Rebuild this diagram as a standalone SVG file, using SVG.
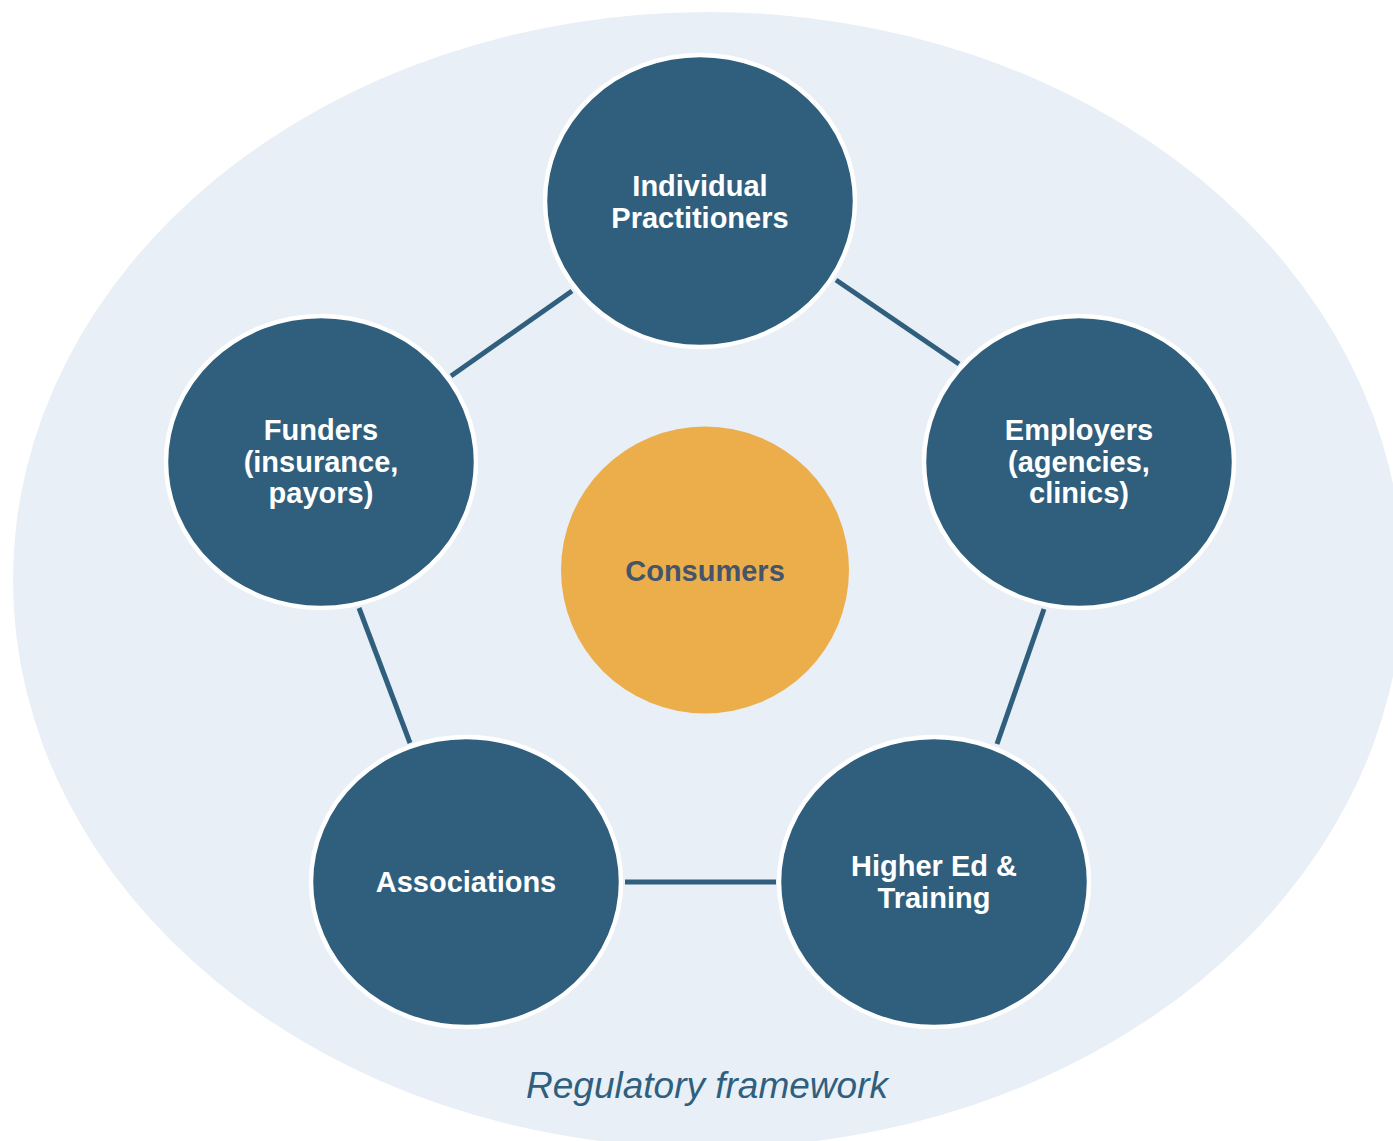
<svg xmlns="http://www.w3.org/2000/svg" width="1393" height="1141" viewBox="0 0 1393 1141">
  <style>
    .node { fill: #305F7E; stroke: #FFFFFF; stroke-width: 4.5; }
    .label { font-family: "Liberation Sans", Arial, sans-serif; font-size: 29px; font-weight: bold; fill: #FFFFFF; text-anchor: middle; }
    .conn { stroke: #305F7E; stroke-width: 5; fill: none; }
  </style>
  <rect width="1393" height="1141" fill="#FFFFFF"/>
  <g id="framework">
    <ellipse cx="708" cy="580" rx="695" ry="568" fill="#E8EFF6"/>
    <text x="707" y="1098" font-family="Liberation Sans, Arial, sans-serif" font-size="37" font-style="italic" fill="#2F5F7E" text-anchor="middle">Regulatory framework</text>
  </g>
  <g id="connectors">
    <line class="conn" x1="451" y1="376" x2="572" y2="291"/>
    <line class="conn" x1="836" y1="280" x2="959" y2="364"/>
    <line class="conn" x1="1044" y1="609" x2="997" y2="744"/>
    <line class="conn" x1="625" y1="882" x2="776" y2="882"/>
    <line class="conn" x1="359" y1="608" x2="410" y2="743"/>
  </g>
  <g id="individual-practitioners">
    <ellipse class="node" cx="700" cy="201" rx="155" ry="146"/>
    <text class="label" x="700" y="196">Individual</text>
    <text class="label" x="700" y="228">Practitioners</text>
  </g>
  <g id="funders">
    <ellipse class="node" cx="321" cy="462" rx="155" ry="146"/>
    <text class="label" x="321" y="440">Funders</text>
    <text class="label" x="321" y="472">(insurance,</text>
    <text class="label" x="321" y="503">payors)</text>
  </g>
  <g id="employers">
    <ellipse class="node" cx="1079" cy="462" rx="155" ry="146"/>
    <text class="label" x="1079" y="440">Employers</text>
    <text class="label" x="1079" y="472">(agencies,</text>
    <text class="label" x="1079" y="503">clinics)</text>
  </g>
  <g id="associations">
    <ellipse class="node" cx="466" cy="882" rx="155" ry="145"/>
    <text class="label" x="466" y="892">Associations</text>
  </g>
  <g id="higher-ed">
    <ellipse class="node" cx="934" cy="882" rx="155" ry="145"/>
    <text class="label" x="934" y="876">Higher Ed &amp;</text>
    <text class="label" x="934" y="908">Training</text>
  </g>
  <g id="consumers">
    <ellipse cx="705" cy="570" rx="144" ry="143.5" fill="#ECAE4A"/>
    <text x="705" y="581" font-family="Liberation Sans, Arial, sans-serif" font-size="29" font-weight="bold" fill="#44546A" text-anchor="middle">Consumers</text>
  </g>
</svg>
